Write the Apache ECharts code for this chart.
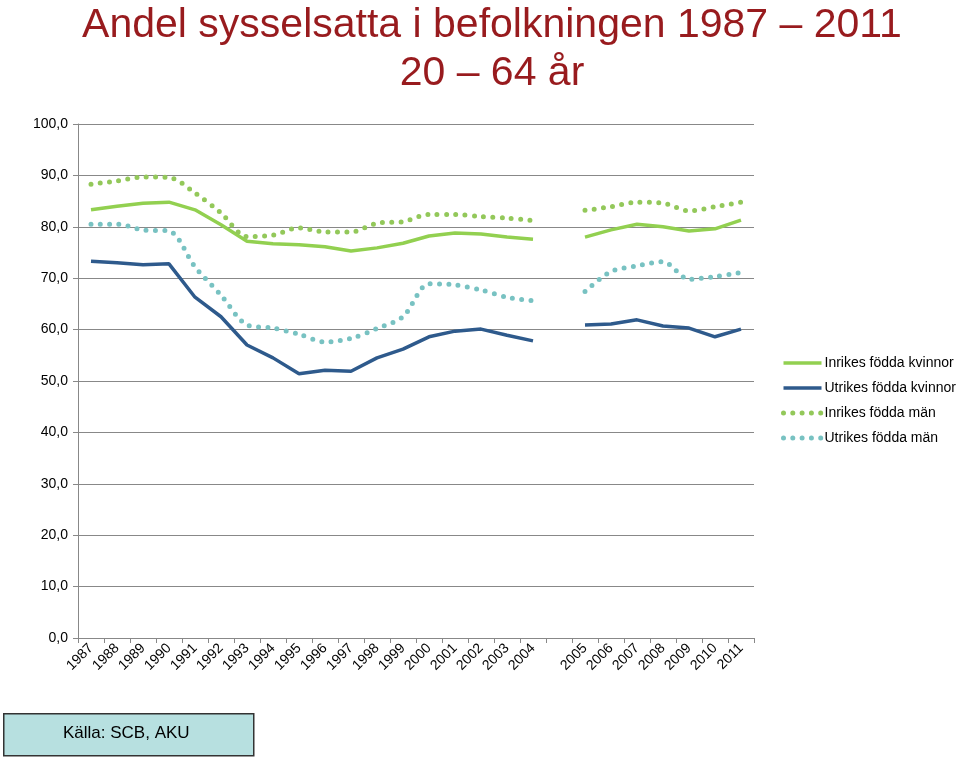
<!DOCTYPE html>
<html lang="sv">
  <head>
    <meta charset="UTF-8" />
    <script src="https://cdn.jsdelivr.net/npm/echarts@6/dist/echarts.min.js"></script>
    <style>
      html, body { margin: 0; padding: 0; background: #fff; }
      #main { width: 959px; height: 757px; }
    </style>
    <title>Andel sysselsatta</title>
  </head>
  <body>
    <div id="main"></div>
    <script>
      // empty slot between 2004 and 2005 (break in series)
      const years = [
        "1987", "1988", "1989", "1990", "1991", "1992", "1993", "1994", "1995",
        "1996", "1997", "1998", "1999", "2000", "2001", "2002", "2003", "2004",
        "", "2005", "2006", "2007", "2008", "2009", "2010", "2011",
      ];
      const inrikesKvinnor = [
        83.3, 84.0, 84.6, 84.8, 83.3, 80.4, 77.2, 76.7, 76.5, 76.1, 75.3, 75.9,
        76.8, 78.2, 78.8, 78.6, 78.0, 77.6, null, 78.0, 79.4, 80.5, 80.0, 79.2, 79.6, 81.3,
      ];
      const utrikesKvinnor = [
        73.3, 73.0, 72.6, 72.8, 66.3, 62.5, 57.0, 54.5, 51.4, 52.1, 51.9, 54.5,
        56.2, 58.6, 59.7, 60.1, 58.9, 57.8, null, 60.9, 61.1, 61.9, 60.7, 60.3, 58.6, 60.1,
      ];
      const inrikesMan = [
        88.3, 88.9, 89.7, 89.6, 86.6, 82.7, 78.1, 78.4, 79.8, 79.0, 79.0, 80.7,
        81.0, 82.4, 82.4, 82.0, 81.7, 81.2, null, 83.2, 83.9, 84.8, 84.6, 83.1, 83.9, 84.8,
      ];
      const utrikesMan = [
        80.5, 80.5, 79.4, 79.2, 72.2, 66.7, 60.9, 60.3, 59.1, 57.6, 58.3, 60.2,
        62.5, 68.9, 68.7, 67.7, 66.3, 65.6, null, 67.4, 71.3, 72.4, 73.2, 69.8, 70.3, 71.1,
      ];

      const font = "Liberation Sans, Arial, sans-serif";
      const dotStyle = { width: 5, type: [0, 9.3], cap: "round" };
      const chart = echarts.init(document.getElementById("main"));

      function solid(name, data, color) {
        return {
          name: name,
          type: "line",
          data: data,
          symbol: "none",
          connectNulls: false,
          lineStyle: { color: color, width: 3.5 },
          itemStyle: { color: color },
        };
      }
      function dotted(name, data, color) {
        return {
          name: name,
          type: "line",
          data: data,
          symbol: "none",
          smooth: 0.3,
          connectNulls: false,
          lineStyle: Object.assign({ color: color }, dotStyle),
          itemStyle: { color: color },
        };
      }

      chart.setOption({
        animation: false,
        title: {
          text: "Andel sysselsatta i befolkningen 1987 \u2013 2011\n20 \u2013 64 år",
          left: 487,
          textAlign: "center",
          top: -3,
          textStyle: {
            color: "#981b1e",
            fontFamily: font,
            fontWeight: "normal",
            fontSize: 41,
            lineHeight: 48,
          },
        },
        legend: {
          orient: "vertical",
          left: 776,
          top: 351,
          itemWidth: 38,
          itemHeight: 10,
          itemGap: 11,
          itemStyle: { opacity: 0 },
          textStyle: { fontFamily: font, fontSize: 14, color: "#000", padding: [0, 0, 0, -2] },
          data: [
            { name: "Inrikes födda kvinnor", lineStyle: { width: 3.5 } },
            { name: "Utrikes födda kvinnor", lineStyle: { width: 3.5 } },
            { name: "Inrikes födda män", lineStyle: dotStyle },
            { name: "Utrikes födda män", lineStyle: dotStyle },
          ],
        },
        grid: { left: 78, right: 205, top: 124, bottom: 119 },
        xAxis: {
          type: "category",
          data: years,
          boundaryGap: true,
          axisLine: { lineStyle: { color: "#888", width: 1 } },
          axisTick: { show: true, length: 5, lineStyle: { color: "#888" } },
          axisLabel: {
            rotate: 45,
            interval: 0,
            margin: 8,
            fontFamily: font,
            fontSize: 14,
            color: "#000",
          },
        },
        yAxis: {
          type: "value",
          min: 0,
          max: 100,
          interval: 10,
          axisLine: { show: true, lineStyle: { color: "#888" } },
          axisTick: { show: true, length: 5, lineStyle: { color: "#888" } },
          splitLine: { lineStyle: { color: "#888", width: 1 } },
          axisLabel: {
            fontFamily: font,
            fontSize: 14,
            color: "#000",
            margin: 10,
            formatter: (v) => v.toFixed(1).replace(".", ","),
          },
        },
        series: [
          solid("Inrikes födda kvinnor", inrikesKvinnor, "#92d050"),
          solid("Utrikes födda kvinnor", utrikesKvinnor, "#2e5a8c"),
          dotted("Inrikes födda män", inrikesMan, "#93c85a"),
          dotted("Utrikes födda män", utrikesMan, "#78c2c2"),
        ],
        graphic: [
          {
            type: "rect",
            left: 3,
            top: 713,
            shape: { width: 250, height: 42 },
            style: { fill: "#b7e0e0", stroke: "#333", lineWidth: 1.5 },
          },
          {
            type: "text",
            left: 63,
            top: 725,
            style: { text: "Källa: SCB, AKU", font: "17px " + font, fill: "#000" },
          },
        ],
      });
    </script>
  </body>
</html>
